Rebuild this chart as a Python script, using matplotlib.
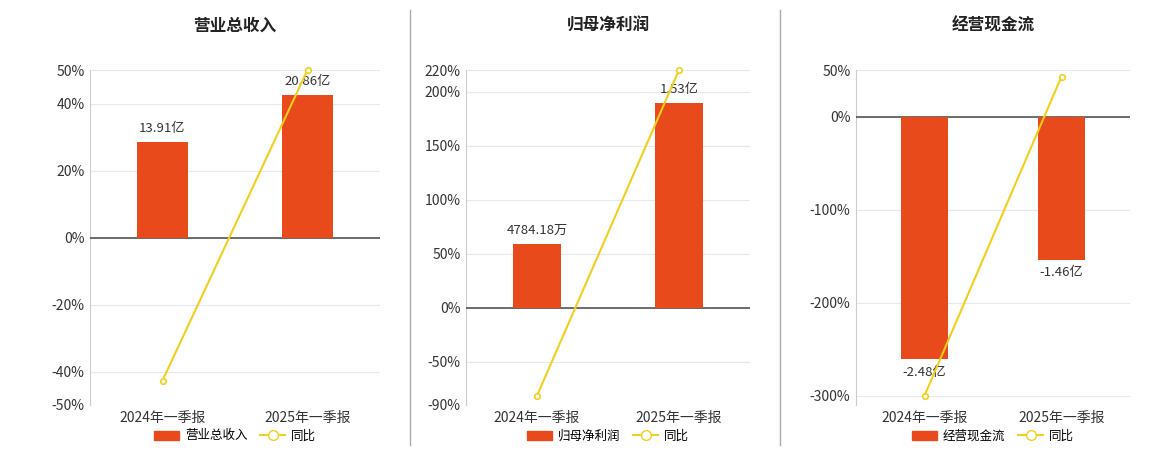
import matplotlib
matplotlib.use("Agg")
import matplotlib.pyplot as plt
from matplotlib.lines import Line2D
from matplotlib.patches import Patch

plt.rcParams['font.family'] = ['Noto Sans CJK SC', 'DejaVu Sans']

categories = ['2024年一季报', '2025年一季报']
titles = ['营业总收入', '归母净利润', '经营现金流']
bar_values = [[13.91, 20.86], [0.478418, 1.53], [-2.48, -1.46]]
bar_labels = [['13.91亿', '20.86亿'], ['4784.18万', '1.53亿'], ['-2.48亿', '-1.46亿']]
yoy = [[-42.7, 50.0], [-81.4, 220.0], [-300.0, 43.0]]
pct_ticks = [[-50, -40, -20, 0, 20, 40, 50], [-90, -50, 0, 50, 100, 150, 200, 220], [-300, -200, -100, 0, 50]]
pct_lims = [(-50, 50), (-90, 220), (-310, 50)]
bar_pct_equiv = [28.4, 59.2, -261.0]  # percent height of first bar

BAR = '#e84a1c'
LINE = '#f2cf1c'
W, H = 1160, 450
fig = plt.figure(figsize=(W/100, H/100), dpi=100)
axes_x = [(90, 380), (466, 750), (856, 1130)]
for i in range(3):
    x0, x1 = axes_x[i]
    ax = fig.add_axes([x0/W, 1-405/H, (x1-x0)/W, 335/H])
    lo, hi = pct_lims[i]
    ax.set_ylim(lo, hi)
    ax.set_xlim(-0.5, 1.5)
    ax.set_yticks(pct_ticks[i])
    ax.set_yticklabels([f'{t}%' for t in pct_ticks[i]], fontsize=10, color='#333333')
    ax.grid(axis='y', color='#e6e8ef', lw=0.8)
    ax.set_axisbelow(True)
    for s in ['top', 'right', 'bottom']:
        ax.spines[s].set_visible(False)
    ax.spines['left'].set_color('#cccccc')
    ax.tick_params(axis='y', length=0, pad=4)
    ax.tick_params(axis='x', length=0, labelsize=10, colors='#333333', pad=4)
    ax.set_xticks([0, 1])
    ax.set_xticklabels(categories)
    ax.axhline(0, color='#555555', lw=1.2, zorder=3)
    ax.set_title(titles[i], fontsize=12, fontweight='bold', color='#222222', pad=28)
    # bars on twin axis with 0 aligned
    k = bar_values[i][0] / bar_pct_equiv[i]
    ax2 = ax.twinx()
    ax2.set_ylim(lo*k, hi*k) if k > 0 else ax2.set_ylim(lo*(-k)*-1, hi*(-k)*-1)
    ax2.set_ylim(lo*abs(k), hi*abs(k))
    ax2.axis('off')
    ax2.bar([0, 1], bar_values[i], width=0.345, color=BAR, zorder=2)
    for xi, (v, lab) in enumerate(zip(bar_values[i], bar_labels[i])):
        ax2.annotate(lab, (xi, v), xytext=(0, 5 if v > 0 else -5), textcoords='offset points',
                     ha='center', va='bottom' if v > 0 else 'top', fontsize=9.5, color='#333333')
    ax3 = ax.twinx()
    ax3.set_ylim(lo, hi)
    ax3.axis('off')
    ax3.plot([0, 1], yoy[i], color=LINE, lw=1.5, marker='o', ms=4,
             mfc='white', mec=LINE, mew=1.2, clip_on=False, zorder=5)
    handles = [Patch(color=BAR, label=titles[i]),
               Line2D([], [], color=LINE, marker='o', mfc='white', mec=LINE, ms=7, lw=1.5, label='同比')]
    fig.legend(handles=handles, loc='center', bbox_to_anchor=((x0+x1)/2/W, 1-436/H),
               ncol=2, frameon=False, fontsize=9, handlelength=2, columnspacing=1, handletextpad=0.5)

for xs in [410, 780]:
    fig.add_artist(Line2D([xs/W, xs/W], [1-445/H, 1-10/H], color='#aaaaaa', lw=1))

fig.savefig('out.png', dpi=100)
